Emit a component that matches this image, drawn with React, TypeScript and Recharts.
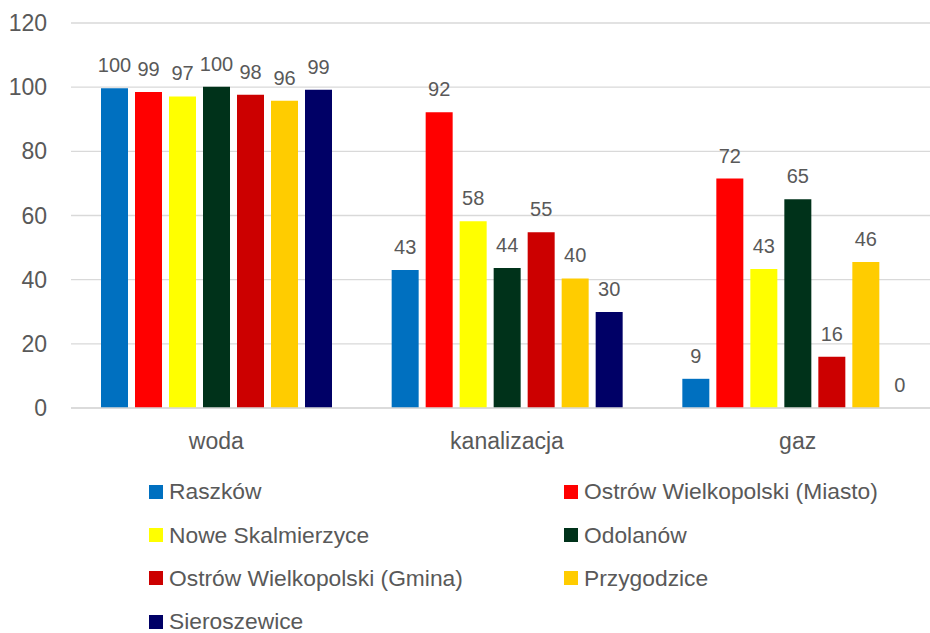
import React from 'react';
import { BarChart, Bar, XAxis, YAxis, CartesianGrid, Legend, LabelList } from 'recharts';

const categories = ['woda', 'kanalizacja', 'gaz'];
const seriesNames = [
  'Raszków',
  'Ostrów Wielkopolski (Miasto)',
  'Nowe Skalmierzyce',
  'Odolanów',
  'Ostrów Wielkopolski (Gmina)',
  'Przygodzice',
  'Sieroszewice',
];
const seriesColors = ['#0070C0', '#FF0000', '#FFFF00', '#00321A', '#CC0000', '#FFCC00', '#000066'];

const raszkow = [99.7, 43.0, 9.1];
const ostrowMiasto = [98.5, 92.2, 71.5];
const noweSkalmierzyce = [97.1, 58.2, 43.3];
const odolanow = [100.1, 43.6, 65.1];
const ostrowGmina = [97.6, 54.8, 16.0];
const przygodzice = [95.8, 40.4, 45.5];
const sieroszewice = [99.2, 29.9, 0];

const yTicks = [0, 20, 40, 60, 80, 100, 120];

const seriesValues = [raszkow, ostrowMiasto, noweSkalmierzyce, odolanow, ostrowGmina, przygodzice, sieroszewice];
const keys = ['s0', 's1', 's2', 's3', 's4', 's5', 's6'];

const data = categories.map((c, i) => {
  const row: Record<string, any> = { name: c };
  seriesValues.forEach((vals, j) => {
    row[keys[j]] = vals[i];
  });
  return row;
});

const FONT = '"Liberation Sans", Arial, sans-serif';
const TEXT = '#595959';

const LegendContent = () => {
  return (
    <div
      style={{
        display: 'grid',
        gridTemplateColumns: '415px 415px',
        paddingLeft: 149,
        fontFamily: FONT,
        fontSize: 22.8,
        color: TEXT,
      }}
    >
      {seriesNames.map((name, i) => (
        <div key={i} style={{ display: 'flex', alignItems: 'center', height: 43.4, whiteSpace: 'nowrap' }}>
          <span style={{ display: 'inline-block', width: 14, height: 14, background: seriesColors[i], marginRight: 6 }} />
          <span>{name}</span>
        </div>
      ))}
    </div>
  );
};

export default function App() {
  return (
    <div style={{ position: 'absolute', left: 0, top: 0, width: 930, height: 633, overflow: 'hidden', background: '#fff' }}>
      <BarChart
        width={944}
        height={633}
        data={data}
        margin={{ top: 23, right: 1, left: 0, bottom: 195 }}
        barSize={27}
        barGap={7}
        style={{ fontFamily: FONT }}
      >
        <CartesianGrid vertical={false} stroke="#d9d9d9" strokeWidth={1.3} />
        <XAxis
          dataKey="name"
          axisLine={{ stroke: '#d9d9d9', strokeWidth: 1.3 }}
          tickLine={false}
          tickSize={0}
          tickMargin={25}
          height={30}
          tick={{ fill: TEXT, fontSize: 23, fontFamily: FONT }}
        />
        <YAxis
          domain={[0, 120]}
          ticks={yTicks}
          axisLine={false}
          tickLine={false}
          tickSize={0}
          tickMargin={24}
          width={71}
          tick={{ fill: TEXT, fontSize: 23, fontFamily: FONT }}
        />
        <Legend
          layout="horizontal"
          verticalAlign="middle"
          align="center"
          wrapperStyle={{ position: 'absolute', top: 470, left: 0, width: 930, height: 163 }}
          content={<LegendContent />}
        />
        {keys.map((k, j) => (
          <Bar
            key={k}
            dataKey={k}
            name={seriesNames[j]}
            fill={seriesColors[j]}
            minPointSize={0.01}
            isAnimationActive={false}
          >
            <LabelList
              dataKey={k}
              position="top"
              offset={16}
              formatter={(v: any) => String(Math.round(Number(v)))}
              fill={TEXT}
              fontSize={20}
              fontFamily={FONT}
            />
          </Bar>
        ))}
      </BarChart>
    </div>
  );
}
